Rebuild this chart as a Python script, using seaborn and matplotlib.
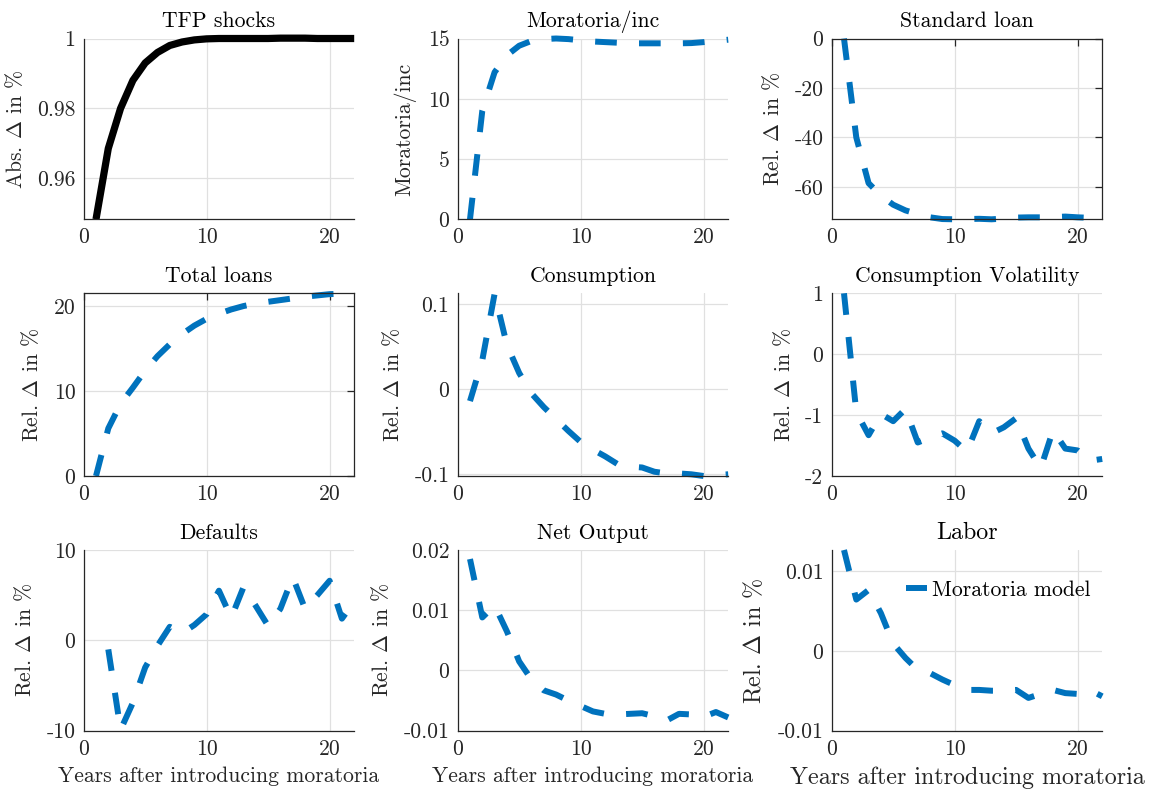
import numpy as np
import pandas as pd
import matplotlib
matplotlib.use("Agg")
import matplotlib.pyplot as plt
import seaborn as sns

# ---- data: responses after introducing moratoria (years 1..22) ----
years = list(range(1, 23))

tfp_shocks = [0.9482, 0.9685, 0.9800, 0.9880, 0.9930, 0.9960, 0.9980, 0.9990,
              0.9996, 0.9999, 1.0000, 1.0000, 1.0000, 1.0000, 1.0000, 1.0001,
              1.0001, 1.0001, 1.0000, 1.0000, 1.0000, 1.0000]
moratoria_inc = [0.0, 9.0, 12.2, 13.6, 14.4, 14.8, 14.95, 15.0, 14.95, 14.85,
                 14.75, 14.7, 14.65, 14.6, 14.6, 14.6, 14.6, 14.6, 14.62, 14.7,
                 14.8, 14.9]
standard_loan = [0.0, -40.0, -58.5, -63.5, -67.2, -69.5, -71.0, -72.3, -73.0,
                 -73.1, -73.0, -72.9, -73.1, -72.8, -72.4, -72.3, -72.3, -72.2,
                 -72.0, -72.3, -72.5, -72.6]
total_loans = [0.0, 5.6, 8.5, 10.4, 12.4, 14.1, 15.5, 16.7, 17.7, 18.5, 19.1,
               19.6, 20.0, 20.3, 20.5, 20.7, 20.9, 21.1, 21.25, 21.4, 21.45, 21.5]
consumption = [-0.014, 0.034, 0.112, 0.052, 0.019, -0.005, -0.021, -0.035,
               -0.049, -0.062, -0.071, -0.079, -0.088, -0.091, -0.092, -0.097,
               -0.099, -0.099, -0.100, -0.102, -0.101, -0.100]
consumption_vol = [1.0, -0.95, -1.33, -0.98, -1.1, -0.9, -1.45, -1.37, -1.3,
                   -1.42, -1.6, -1.1, -1.3, -1.2, -1.05, -1.55, -1.87, -1.25,
                   -1.55, -1.58, -1.75, -1.72]
defaults = [np.nan, -1.0, -9.9, -6.9, -3.0, -0.6, 1.5, 0.8, 1.7, 2.9, 5.5, 2.5,
            5.9, 3.8, 1.6, 3.5, 7.0, 3.5, 5.0, 6.6, 2.4, 4.3]
net_output = [0.0185, 0.0088, 0.0108, 0.0065, 0.0015, -0.0015, -0.0033, -0.0040,
              -0.0050, -0.0059, -0.0068, -0.0072, -0.0073, -0.0072, -0.0071,
              -0.0076, -0.0083, -0.0072, -0.0073, -0.0077, -0.0069, -0.0078]
labor = [0.0126, 0.0064, 0.0076, 0.0047, 0.0009, -0.0009, -0.0024, -0.0028,
         -0.0036, -0.0043, -0.0049, -0.0049, -0.0050, -0.0050, -0.0049, -0.0059,
         -0.0054, -0.0049, -0.0053, -0.0054, -0.0049, -0.0057]

titles = ["TFP shocks", "Moratoria/inc", "Standard loan",
          "Total loans", "Consumption", "Consumption Volatility",
          "Defaults", "Net Output", "Labor"]
ylabels = ["Abs. $\\Delta$ in %", "Moratoria/inc"] + ["Rel. $\\Delta$ in %"] * 7
series = [tfp_shocks, moratoria_inc, standard_loan, total_loans, consumption,
          consumption_vol, defaults, net_output, labor]
yticks = [[0.96, 0.98, 1.0], [0, 5, 10, 15], [-60, -40, -20, 0],
          [0, 10, 20], [-0.1, 0, 0.1], [-2, -1, 0, 1],
          [-10, 0, 10], [-0.01, 0, 0.01, 0.02], [-0.01, 0, 0.01]]
ylims = [(0.9482, 1.0), (0, 15.0), (-73.1, 0), (0, 21.5), (-0.102, 0.1126),
         (-2, 1), (-10, 10), (-0.01, 0.02), (-0.01, 0.0126)]
xticks = [0, 10, 20]
xlabel = "Years after introducing moratoria"
legend_label = "Moratoria model"

# ---- style ----
sns.set_theme(style="white")
plt.rcParams.update({
    "font.family": ["cmr10", "DejaVu Serif"],
    "mathtext.fontset": "cm",
    "axes.unicode_minus": False,
    "axes.formatter.use_mathtext": True,
    "lines.scale_dashes": False,
    "text.color": "black",
})

BLUE = "#0072BD"
AXCOL = (0.15, 0.15, 0.15)
GRIDCOL = (0.88, 0.88, 0.88)
FS = 15.6
FS_BIG = 17.3

fig = plt.figure(figsize=(11.49, 7.91), dpi=100)

W, H = 1149, 791
col_left = [83.7, 457.7, 831.7]
ax_w = 270.5
row_top = [38.5, 293.3, 550.0]
row_h = [180.8, 182.7, 180.7]

boxed = {2, 3}

for i in range(9):
    r, c = divmod(i, 3)
    ax = fig.add_axes([col_left[c] / W, 1 - (row_top[r] + row_h[r]) / H,
                       ax_w / W, row_h[r] / H])
    df = pd.DataFrame({"year": years, "value": series[i]})
    is_tfp = i == 0
    kws = dict(color="black" if is_tfp else BLUE,
               linewidth=5.2 if is_tfp else 4.3,
               errorbar=None, clip_on=False, ax=ax)
    if i == 8:
        kws["label"] = legend_label
    sns.lineplot(data=df, x="year", y="value", **kws)
    line = ax.lines[-1]
    if not is_tfp:
        line.set_linestyle((0, (15.6, 16.0)))
        line.set_dash_capstyle("butt")
    else:
        line.set_solid_capstyle("butt")
        line.set_solid_joinstyle("round")

    ax.set_xlim(0, 22)
    ax.set_ylim(*ylims[i])
    ax.set_xticks(xticks)
    ax.set_yticks(yticks[i])
    ax.set_xticklabels([f"{v:g}" for v in xticks])
    ax.set_yticklabels([f"{v:g}" for v in yticks[i]])

    big = i == 8
    ax.set_title(titles[i], fontsize=FS_BIG if big else FS, pad=8)
    ax.set_ylabel(ylabels[i], fontsize=FS_BIG if big else FS, labelpad=8)
    if r == 2:
        ax.set_xlabel(xlabel, fontsize=FS_BIG if big else FS, labelpad=6)
    else:
        ax.set_xlabel("")

    ax.grid(True, color=GRIDCOL, linewidth=0.9)
    ax.set_axisbelow(True)
    ax.set_facecolor("white")
    for side in ["left", "bottom", "top", "right"]:
        ax.spines[side].set_color(AXCOL)
        ax.spines[side].set_linewidth(0.9)
    if i not in boxed:
        ax.spines["top"].set_visible(False)
        ax.spines["right"].set_visible(False)
    ax.tick_params(direction="in", length=5, width=0.9, colors=AXCOL,
                   labelsize=FS, labelcolor=AXCOL, pad=6,
                   top=i in boxed, right=i in boxed)

    if i == 8:
        ax.legend(loc="center left", bbox_to_anchor=(0.275, 0.78), frameon=False,
                  fontsize=FS, handlelength=0.95, handletextpad=0.25,
                  borderaxespad=0, borderpad=0)
    elif ax.get_legend() is not None:
        ax.get_legend().remove()

fig.savefig("out.png", dpi=100, facecolor="white")
